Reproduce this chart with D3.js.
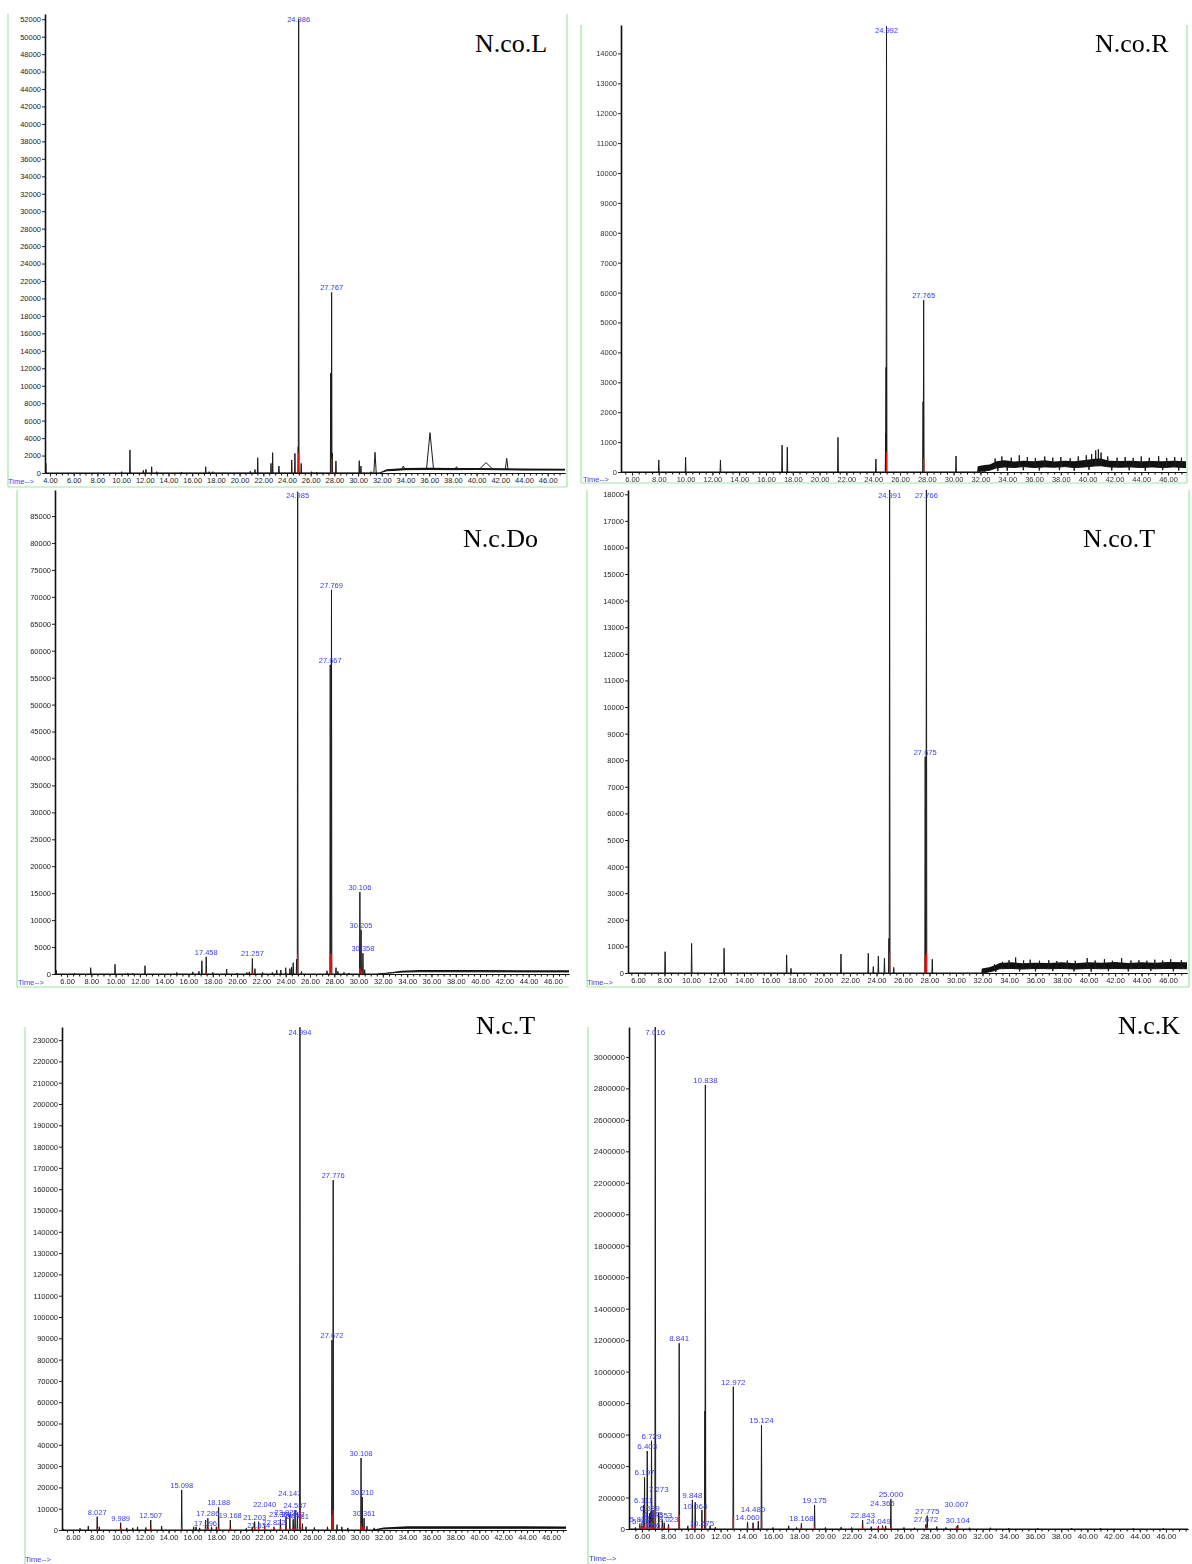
<!DOCTYPE html>
<html lang="en">
<head>
<meta charset="UTF-8">
<script src="https://cdnjs.cloudflare.com/ajax/libs/d3/7.8.5/d3.min.js"></script>
<title>GC-MS chromatograms</title>
<style>
    body { margin: 0; background: #fff; }
    svg text { font-family: "Liberation Sans", Arial, sans-serif; }
    svg text.sample { font-family: "Liberation Serif", "Times New Roman", serif; }
</style>
</head>
<body>
<svg id="contents" width="1192" height="1564"></svg>
<script>
    // ---- data: [retention time (min), abundance, optional half width] ----
    // labelled peaks carry their retention time as label
    // baselines: [time, low, high] of the (noisy) baseline band

    // N.co.L
    var coLPeaks = [[3.65, 1100], [10.05, 150], [10.75, 2640], [11.88, 300], [12.1, 420], [12.58, 720], [13.0, 150],
        [15.1, 120], [17.14, 720], [17.43, 150], [17.73, 150], [20.9, 200], [21.3, 400], [21.53, 1750], [22.65, 1100],
        [22.79, 2330], [23.32, 800], [24.4, 1490], [24.67, 2250], [24.95, 3000], [25.2, 1100], [26.08, 150], [26.5, 100],
        [27.69, 11430], [27.82, 2300], [28.13, 1380], [30.1, 1410], [30.24, 800], [31.09, 150], [31.43, 2370, 0.1],
        [33.82, 800, 0.15], [36.07, 4620, 0.3], [38.3, 720, 0.15], [40.8, 1180, 0.6], [42.54, 1680, 0.12]];
    var coLLabeled = [[24.986, 52000], [27.767, 20700]];
    var coLBase = [[3.58, 0, 0], [31.8, 0, 40], [32.4, 250, 420], [34, 380, 560], [36, 400, 600], [38, 380, 560],
        [40, 400, 580], [44, 340, 520], [47.46, 330, 500]];

    // N.co.R
    var coRPeaks = [[8.0, 400], [10.0, 490], [12.6, 400], [17.2, 900], [17.59, 830], [21.37, 1160], [24.2, 435],
        [24.93, 1300], [24.96, 3500], [27.72, 2350], [30.18, 535],
        [33.1, 450], [33.6, 520], [34.3, 480], [34.9, 560], [35.5, 500], [36.1, 470], [36.8, 520], [37.4, 480],
        [38.0, 500], [38.7, 460], [39.3, 520], [39.9, 560], [40.3, 600], [40.6, 720], [40.8, 760], [41.0, 650],
        [41.5, 520], [42.2, 480], [42.8, 500], [43.4, 470], [44.0, 520], [44.6, 480], [45.3, 530], [45.9, 470],
        [46.5, 500], [47.0, 480],
        [32.3, 0], [33.3, 30], [34.0, 40], [35.2, 60], [36.4, 50], [37.9, 60], [39.0, 40], [40.1, 70], [41.8, 50],
        [43.1, 60], [44.3, 40], [45.6, 60], [46.8, 50]];
    var coRLabeled = [[24.992, 14900], [27.765, 5750]];
    var coRBase = [[5.18, 0, 0], [31.75, 0, 0], [31.8, 20, 190], [32.3, 30, 230], [32.7, 60, 250], [33.2, 140, 360],
        [33.8, 170, 390], [34.5, 150, 350], [35.2, 180, 380], [36.0, 150, 360], [36.8, 170, 390], [37.5, 160, 350],
        [38.3, 180, 380], [39.0, 150, 360], [39.8, 170, 400], [40.5, 200, 440], [41.0, 210, 450], [41.6, 170, 380],
        [42.4, 160, 370], [43.2, 170, 380], [44.0, 150, 360], [44.8, 170, 370], [45.6, 150, 360], [46.4, 170, 380],
        [47.34, 150, 360]];

    // N.c.Do
    var cDoPeaks = [[5.1, 740], [6.6, 150], [7.95, 1170], [9.95, 1800], [11.0, 150], [11.4, 150], [12.42, 1540],
        [15.03, 300], [16.35, 400], [16.86, 500], [17.1, 2470], [18.0, 300], [19.14, 930], [20.0, 200], [20.8, 300],
        [21.0, 400], [21.47, 1000], [22.1, 300], [22.9, 300], [23.26, 740], [23.6, 740], [24.0, 1170], [24.35, 1000],
        [24.49, 1300], [24.62, 2100], [24.9, 2730], [25.3, 500], [27.4, 600], [28.14, 1170], [28.3, 500], [28.8, 300],
        [29.2, 200], [30.5, 800]];
    var cDoLabeled = [[24.985, 89500], [27.769, 71300], [27.667, 57400], [30.106, 15200], [30.205, 8200],
        [30.358, 3850], [17.458, 3200], [21.257, 2900]];
    var cDoBase = [[5.01, 0, 0], [31.4, 0, 0], [32.5, 150, 300], [33.5, 350, 600], [35, 420, 750], [40, 400, 720],
        [47.32, 380, 700]];

    // N.co.T
    var coTPeaks = [[8.05, 800], [10.05, 1115], [12.5, 930], [17.22, 680], [17.55, 175], [21.32, 715], [23.38, 740],
        [23.76, 240], [24.14, 640], [24.6, 550], [24.94, 1300], [25.3, 210], [28.21, 515],
        [32.9, 330], [33.5, 420], [34.0, 480], [34.5, 580], [35.1, 470], [35.6, 500], [36.3, 460], [37.0, 480],
        [37.6, 450], [38.4, 470], [39.0, 460], [39.9, 560], [40.5, 470], [41.2, 520], [41.8, 460], [42.5, 560],
        [43.2, 470], [43.8, 480], [44.4, 460], [45.0, 500], [45.6, 470], [46.2, 520], [47.0, 480],
        [32.2, 0], [33.0, 40], [34.8, 60], [36.0, 60], [37.3, 70], [38.9, 60], [40.2, 50], [41.5, 70], [43.0, 60],
        [44.7, 70], [46.4, 60]];
    var coTLabeled = [[24.991, 18200], [27.766, 18200], [27.675, 8130]];
    var coTBase = [[5.25, 0, 0], [31.9, 0, 0], [31.95, 0, 170], [32.5, 40, 220], [32.9, 90, 280], [33.3, 160, 380],
        [34.2, 170, 400], [35.0, 150, 370], [36.0, 170, 390], [37.0, 160, 380], [38.0, 170, 400], [39.0, 150, 370],
        [40.0, 170, 400], [41.0, 160, 390], [42.0, 170, 410], [43.0, 160, 380], [44.0, 170, 400], [45.0, 160, 390],
        [46.0, 170, 410], [47.43, 160, 400]];

    // N.c.T
    var cTPeaks = [[5.2, 500], [6.59, 800], [7.28, 1900], [8.2, 1500], [10.5, 1000], [11.0, 1000], [11.4, 1500],
        [12.1, 1200], [13.42, 1800], [16.1, 1500], [16.3, 1500], [16.6, 1000], [17.6, 1500], [18.0, 1500],
        [20.5, 800], [21.0, 1500], [25.2, 3000], [25.5, 1500], [26.2, 1200], [27.3, 1500], [28.1, 2500],
        [28.5, 1500], [29.0, 1000], [30.6, 1800], [31.2, 1000]];
    var cTLabeled = [[24.994, 236000], [27.776, 164300], [27.672, 89200], [30.108, 33800], [30.210, 15500],
        [30.361, 5600], [15.098, 18800], [8.027, 6250], [9.989, 3430], [12.507, 4700], [18.188, 10650],
        [19.168, 4700], [17.096, 4700], [17.286, 5500], [21.203, 3900], [21.534, 3900], [22.040, 2000],
        [22.822, 1500], [23.364, 5000], [23.828, 6250], [24.147, 7000], [24.427, 5000], [24.587, 9400],
        [24.781, 8000]];
    var cTBase = [[5.08, 0, 0], [31, 0, 0], [32, 500, 1200], [34, 800, 1800], [47.26, 800, 1700]];

    // N.c.K
    var cKPeaks = [[5.5, 10000], [7.7, 40000], [9.5, 20000], [10.80, 750000], [11.2, 20000], [11.6, 12000],
        [14.88, 50000], [16.0, 10000], [17.2, 20000], [17.8, 10000], [20.0, 10000], [21.2, 12000], [22.0, 10000],
        [23.5, 15000], [24.6, 20000], [26.0, 10000], [26.8, 8000], [28.5, 15000], [29.2, 10000], [31.0, 8000],
        [32.6, 8000], [34.0, 6000], [36.2, 6000], [38.8, 5000], [41.0, 6000], [43.5, 5000], [45.8, 5000]];
    var cKLabeled = [[5.837, 30000], [5.996, 20000], [6.111, 150000], [6.197, 328000], [6.403, 496000],
        [6.589, 100000], [6.656, 110000], [6.729, 561000], [6.843, 120000], [7.016, 3190000], [7.273, 105000],
        [7.553, 60000], [8.023, 30000], [8.841, 1180000], [9.848, 185000], [10.064, 170000], [10.575, 121000],
        [10.838, 2822000], [12.972, 904000], [14.060, 45000], [14.480, 40000], [15.124, 661000], [18.168, 36000],
        [19.175, 152000], [22.843, 57000], [24.049, 20000], [24.365, 22000], [25.000, 190000], [27.672, 30000],
        [27.775, 85000], [30.007, 15000], [30.104, 25000]];
    var cKBase = [[5.01, 0, 0], [47.68, 0, 0]];

    // ---- layout ----
    var panels = [
        {name: 'N.co.L', peaks: coLPeaks, labeled: coLLabeled, base: coLBase,
            t: [3.58, 47.46], xr: [45, 565], v: [0, 52600], yr: [473, 14], yStep: 2000, yMax: 52000, xFirst: 4,
            title: [475, 52], time: [8, 484], frame: [[8, 14, 8, 487], [8, 487, 567, 487], [567, 14, 567, 487]]},
        {name: 'N.co.R', peaks: coRPeaks, labeled: coRLabeled, base: coRBase, blur: true,
            t: [5.18, 47.34], xr: [621, 1186], v: [0, 14950], yr: [472, 25], yStep: 1000, yMax: 14000, xFirst: 6,
            title: [1095, 52], time: [583, 482], frame: [[581, 25, 581, 483], [581, 483, 1187, 483], [1187, 25, 1187, 483]]},
        {name: 'N.c.Do', peaks: cDoPeaks, labeled: cDoLabeled, base: cDoBase,
            t: [5.01, 47.32], xr: [55, 569], v: [0, 89830], yr: [974, 490], yStep: 5000, yMax: 85000, xFirst: 6,
            title: [463, 547], time: [18, 985], frame: [[17, 490, 17, 987], [17, 987, 569, 987]]},
        {name: 'N.co.T', peaks: coTPeaks, labeled: coTLabeled, base: coTBase,
            t: [5.25, 47.43], xr: [628, 1187], v: [0, 18160], yr: [973, 490], yStep: 1000, yMax: 18000, xFirst: 6,
            title: [1083, 547], time: [587, 985], frame: [[587, 490, 587, 987], [587, 987, 1189, 987], [1189, 490, 1189, 987]]},
        {name: 'N.c.T', peaks: cTPeaks, labeled: cTLabeled, base: cTBase,
            t: [5.08, 47.26], xr: [62, 566], v: [0, 236150], yr: [1530, 1027], yStep: 10000, yMax: 230000, xFirst: 6,
            title: [476, 1034], time: [25, 1562], frame: [[25, 1027, 25, 1564]]},
        {name: 'N.c.K', peaks: cKPeaks, labeled: cKLabeled, base: cKBase, font: 8,
            t: [5.01, 47.68], xr: [629, 1188], v: [0, 3190000], yr: [1529, 1027], yStep: 200000, yMax: 3000000, xFirst: 6,
            title: [1118, 1034], time: [589, 1561], frame: [[588, 1027, 588, 1564]]}
    ];

    var svg = d3.select('#contents');
    svg.append('defs').append('filter').attr('id', 'soft')
        .append('feGaussianBlur').attr('stdDeviation', 0.45);

    panels.forEach(drawPanel);

    // labels of smaller peaks dodge an already placed one, but stay inside the plot
    function placeLabels(list, x, y, yTop, y0, fs) {
        var placed = [];
        var order = list.slice().sort(function(a, b) { return b[1] - a[1]; });
        var shifts = [0, fs + 1, -(fs + 1), 2 * (fs + 1), -2 * (fs + 1)];
        order.forEach(function(d) {
            var w = d[0].toFixed(3).length * fs * 0.52;
            var cx = x(d[0]);
            var yBase = Math.max(y(d[1]) - 2, yTop + 8);
            var box = {x0: cx - w / 2, x1: cx + w / 2, y: yBase};
            for (var i = 0; i < shifts.length; i++) {
                var yy = yBase + shifts[i];
                if (yy > y0 - 1 || yy < yTop + 8) continue;
                var hit = placed.some(function(q) {
                    return box.x0 < q.x1 - 1 && box.x1 > q.x0 + 1 && Math.abs(yy - q.y) < fs;
                });
                if (!hit) { box.y = yy; break; }
            }
            placed.push(box);
            d.labelY = box.y;
        });
    }

    function drawPanel(p) {
        var g = svg.append('g').attr('class', 'panel');
        var fs = p.font || 7.5;
        var x = d3.scaleLinear().domain(p.t).range(p.xr);
        var y = d3.scaleLinear().domain(p.v).range(p.yr).clamp(true);
        var y0 = p.yr[0];
        var yTop = p.yr[1];

        // light green frame
        g.selectAll('.frame').data(p.frame).enter().append('line')
            .attr('x1', function(d) { return d[0]; }).attr('y1', function(d) { return d[1]; })
            .attr('x2', function(d) { return d[2]; }).attr('y2', function(d) { return d[3]; })
            .attr('stroke', '#9fe89f').attr('stroke-width', 1.2);

        // raised / noisy baseline
        var baseLo = d3.scaleLinear().domain(p.base.map(function(d) { return d[0]; }))
            .range(p.base.map(function(d) { return d[1]; })).clamp(true);
        g.append('path').datum(p.base)
            .attr('d', d3.area().x(function(d) { return x(d[0]); })
                .y0(function(d) { return y(d[1]); }).y1(function(d) { return y(d[2]); }))
            .attr('fill', '#111');
        g.append('path').datum(p.base)
            .attr('d', d3.line().x(function(d) { return x(d[0]); }).y(function(d) { return y(d[1]); }))
            .attr('fill', 'none').attr('stroke', '#111').attr('stroke-width', 1);

        // peaks
        var all = p.peaks.concat(p.labeled);
        g.selectAll('.peak').data(all).enter().append('path')
            .attr('class', 'peak')
            .attr('d', function(d) {
                var w = d[2] || 0.03;
                var b = baseLo(d[0]);
                return 'M' + x(d[0] - w) + ',' + y(b) + 'L' + x(d[0]) + ',' + y(d[1]) + 'L' + x(d[0] + w) + ',' + y(b);
            })
            .attr('fill', 'none').attr('stroke', '#1a1a1a').attr('stroke-width', 1);

        // red integration marks at labelled peaks
        g.selectAll('.mark').data(p.labeled).enter().append('line')
            .attr('x1', function(d) { return x(d[0]); }).attr('x2', function(d) { return x(d[0]); })
            .attr('y1', y0)
            .attr('y2', function(d) { return y0 - Math.max(2, Math.min(20, (y0 - y(d[1])) * 0.08)); })
            .attr('stroke', '#ee1111').attr('stroke-width', 1.2);

        // peak labels
        placeLabels(p.labeled, x, y, yTop, y0, fs);
        g.selectAll('.plabel').data(p.labeled).enter().append('text')
            .attr('x', function(d) { return x(d[0]); })
            .attr('y', function(d) { return d.labelY; })
            .attr('text-anchor', 'middle')
            .attr('font-size', fs)
            .attr('fill', '#3b3bf2')
            .text(function(d) { return d[0].toFixed(3); });

        // axes
        var axes = g.append('g');
        if (p.blur) axes.attr('filter', 'url(#soft)');

        var yAxis = d3.axisLeft(y)
            .tickValues(d3.range(0, p.yMax + 1, p.yStep))
            .tickFormat(d3.format('d'))
            .tickSize(3).tickSizeOuter(0).tickPadding(1);
        var ya = axes.append('g').attr('transform', 'translate(' + p.xr[0] + ',0)').call(yAxis);

        var major = d3.range(p.xFirst, 47, 2);
        var minor = d3.range(Math.ceil(p.t[0] * 2) / 2, p.t[1], 0.5);
        var xMinor = d3.axisBottom(x).tickValues(minor).tickFormat('').tickSize(2.5).tickSizeOuter(0);
        var xAxis = d3.axisBottom(x).tickValues(major).tickFormat(d3.format('.2f'))
            .tickSize(3.5).tickSizeOuter(0).tickPadding(1);
        axes.append('g').attr('transform', 'translate(0,' + y0 + ')').call(xMinor);
        var xa = axes.append('g').attr('transform', 'translate(0,' + y0 + ')').call(xAxis);

        [ya, xa].forEach(function(a) {
            a.attr('font-size', fs).attr('font-family', '"Liberation Sans", Arial, sans-serif');
            a.selectAll('text').attr('fill', p.blur ? '#333' : '#1c1c1c');
            a.selectAll('.tick line').attr('stroke', '#222');
        });
        ya.select('.domain').attr('stroke', '#111').attr('stroke-width', 1.6);
        xa.select('.domain').attr('stroke', '#111').attr('stroke-width', 1);

        axes.append('text')
            .attr('x', p.time[0]).attr('y', p.time[1])
            .attr('font-size', fs).attr('fill', '#3b3bf2')
            .text('Time-->');

        // sample name
        g.append('text')
            .attr('class', 'sample')
            .attr('x', p.title[0]).attr('y', p.title[1])
            .attr('font-size', 26).attr('fill', '#000')
            .text(p.name);
    }
</script>
</body>
</html>
